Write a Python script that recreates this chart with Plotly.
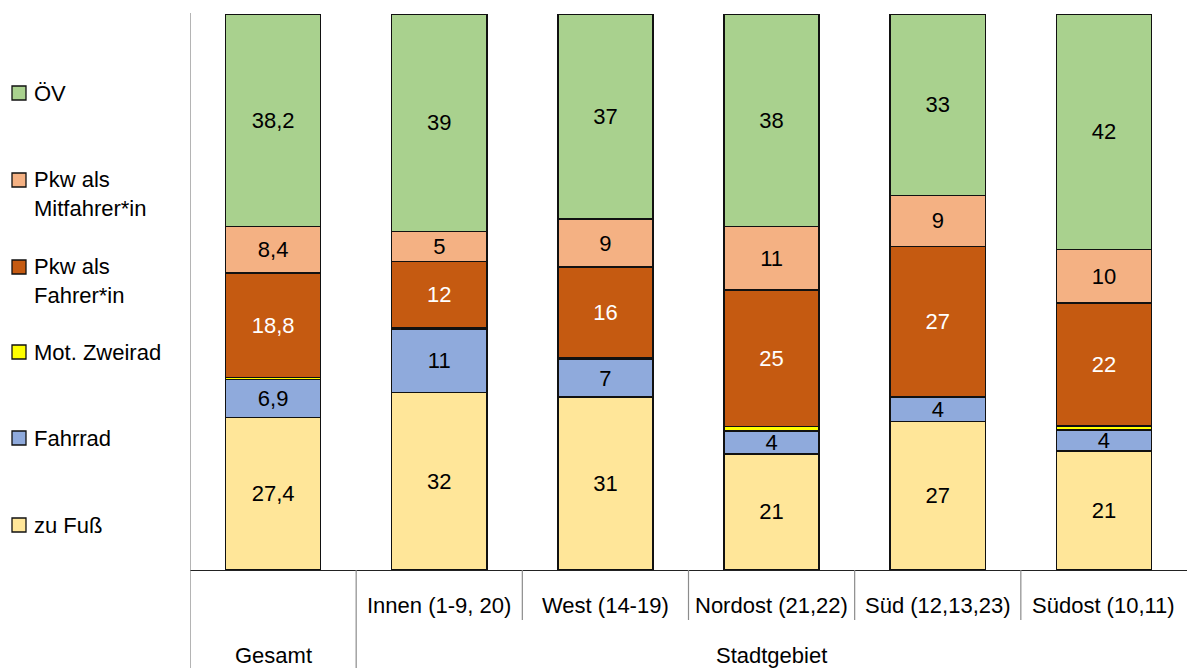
import plotly.graph_objects as go

# ---------------- data ----------------
categories = ["Gesamt", "Innen (1-9, 20)", "West (14-19)", "Nordost (21,22)",
              "Süd (12,13,23)", "Südost (10,11)"]
inner_labels = ["", "Innen (1-9, 20)", "West (14-19)", "Nordost (21,22)",
                "Süd (12,13,23)", "Südost (10,11)"]
outer_groups = ["Gesamt", "Stadtgebiet"]

zu_fuss = [27.4, 31.9, 31.1, 20.9, 26.7, 21.4]
fahrrad = [6.9, 11.4, 6.8, 4.1, 4.4, 3.8]
mot_zweirad = [0.3, 0.2, 0.2, 0.8, 0.1, 0.7]
pkw_fahrer = [18.8, 12.0, 16.4, 24.6, 27.0, 22.1]
pkw_mitfahrer = [8.4, 5.4, 8.6, 11.4, 9.2, 9.6]
oev = [38.2, 39.1, 36.9, 38.2, 32.6, 42.4]

series_names = ["zu Fuß", "Fahrrad", "Mot. Zweirad", "Pkw als<br>Fahrer*in",
                "Pkw als<br>Mitfahrer*in", "ÖV"]
series_values = [zu_fuss, fahrrad, mot_zweirad, pkw_fahrer, pkw_mitfahrer, oev]
series_colors = ["#FFE699", "#8FAADC", "#FFFF00", "#C55A11", "#F4B183", "#A9D18E"]
series_textcolors = ["black", "black", "black", "white", "black", "black"]
series_show_text = [True, True, False, True, True, True]

FONT = "Liberation Sans, Arial, sans-serif"
W, H = 1187, 668
L, R, T, B = 190, 0, 14, 98
PW, PH = W - L - R, H - T - B


def px_x(px):
    return (px - L) / PW


def px_y(py):
    return (H - B - py) / PH


def fmt(v, i):
    if i == 0:
        return f"{v:.1f}".replace(".", ",")
    return f"{v:.0f}"


fig = go.Figure()
for name, vals, col, tcol, show in zip(series_names, series_values, series_colors,
                                       series_textcolors, series_show_text):
    fig.add_trace(go.Bar(
        x=categories, y=vals, name=name,
        marker=dict(color=col, line=dict(color="#111111", width=1.5)),
        text=[fmt(v, i) for i, v in enumerate(vals)] if show else None,
        textposition="inside" if show else "none",
        insidetextanchor="middle",
        textangle=0,
        textfont=dict(family=FONT, size=22, color=tcol),
        showlegend=False,
        hoverinfo="x+y+name",
    ))

fig.update_layout(
    barmode="stack",
    bargap=0.428,
    width=W, height=H,
    margin=dict(l=L, r=R, t=T, b=B, pad=0),
    paper_bgcolor="white", plot_bgcolor="white",
    font=dict(family=FONT, size=22, color="black"),
    uniformtext=dict(minsize=22, mode="show"),
    xaxis=dict(type="category", range=[-0.5, 5.5], showticklabels=False,
               showline=True, linecolor="#222222", linewidth=1.3,
               ticks="", showgrid=False, zeroline=False),
    yaxis=dict(range=[0, 100], visible=False, showgrid=False, zeroline=False),
)

shapes = []
# left vertical line (axis + group boundary)
shapes.append(dict(type="line", xref="x", yref="paper", x0=-0.5, x1=-0.5,
                   y0=px_y(668), y1=px_y(13), line=dict(color="#8c8c8c", width=1.3)))
# boundary between Gesamt and Stadtgebiet
shapes.append(dict(type="line", xref="x", yref="paper", x0=0.5, x1=0.5,
                   y0=px_y(668), y1=0, line=dict(color="#8c8c8c", width=1.2)))
# inner boundaries
for i in range(2, len(categories)):
    shapes.append(dict(type="line", xref="x", yref="paper", x0=i - 0.5, x1=i - 0.5,
                       y0=px_y(620), y1=0, line=dict(color="#8c8c8c", width=1.2)))

annotations = []
for i, lab in enumerate(inner_labels):
    if lab:
        annotations.append(dict(x=i, y=px_y(605), xref="x", yref="paper", text=lab,
                                showarrow=False, xanchor="center", yanchor="middle",
                                font=dict(family=FONT, size=22, color="black")))
annotations.append(dict(x=0, y=px_y(655), xref="x", yref="paper", text=outer_groups[0],
                        showarrow=False, xanchor="center", yanchor="middle",
                        font=dict(family=FONT, size=22, color="black")))
annotations.append(dict(x=3, y=px_y(655), xref="x", yref="paper", text=outer_groups[1],
                        showarrow=False, xanchor="center", yanchor="middle",
                        font=dict(family=FONT, size=22, color="black")))

# manual legend (top to bottom: ÖV ... zu Fuß)
legend_rows = [93, 180, 267, 352, 438, 525]
order = list(range(len(series_names)))[::-1]
for row_y, idx in zip(legend_rows, order):
    shapes.append(dict(type="rect", xref="paper", yref="paper",
                       x0=px_x(12), x1=px_x(26), y0=px_y(row_y + 7), y1=px_y(row_y - 7),
                       fillcolor=series_colors[idx], line=dict(color="#111111", width=1.3)))
    two_line = "<br>" in series_names[idx]
    annotations.append(dict(x=px_x(32), y=px_y(row_y - 15) if two_line else px_y(row_y),
                            xref="paper", yref="paper", text=series_names[idx],
                            showarrow=False, xanchor="left",
                            yanchor="top" if two_line else "middle", align="left",
                            font=dict(family=FONT, size=22, color="black")))

fig.update_layout(shapes=shapes, annotations=annotations)
fig.write_html("out.html", config={"displayModeBar": False},
               post_script="document.body.style.margin='0';document.body.style.overflow='hidden';")
